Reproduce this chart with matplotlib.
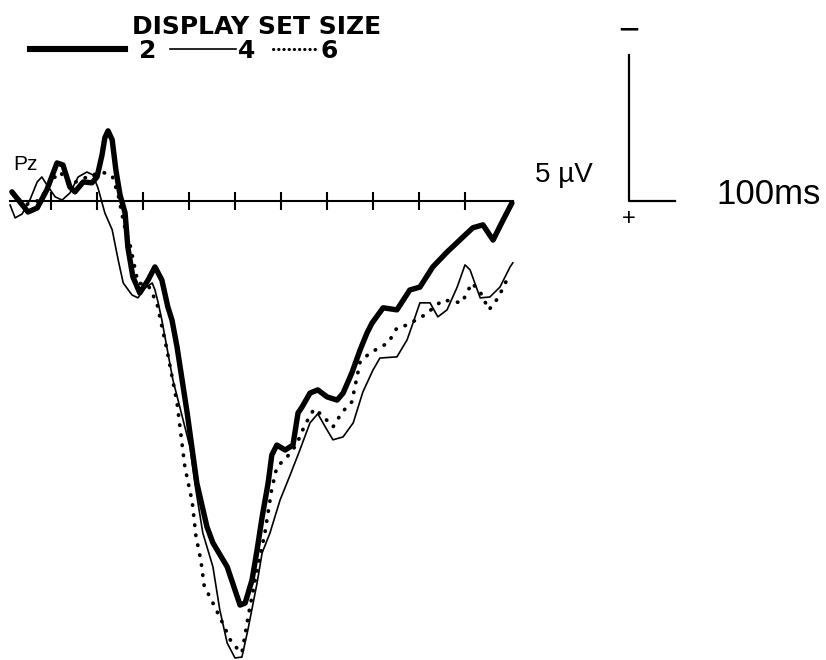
import numpy as np
import matplotlib
matplotlib.use("Agg")
import matplotlib.pyplot as plt
from matplotlib.lines import Line2D

plt.rcParams["font.family"] = ["Liberation Sans", "DejaVu Sans"]

# Pz grand averages, time in ms, amplitude in µV (negative plotted up)
t_set2 = [-185, -150, -130, -109, -87, -74, -59, -48, -30, -11, 0, 11, 17, 24, 33, 41, 50,
          61, 67, 78, 93, 111, 126, 141, 154, 163, 174, 196, 217, 239, 252, 283, 311, 322,
          337, 348, 359, 372, 380, 391, 409, 426, 437, 446, 463, 480, 500, 522, 535, 554,
          572, 587, 598, 622, 652, 680, 702, 730, 761, 796, 817, 839, 861, 883, 902]
v_set2 = [-0.31, 0.38, 0.24, -0.38, -1.30, -1.23, -0.48, -0.31, -0.65, -0.62, -0.82, -1.58,
          -2.16, -2.40, -2.09, -1.06, -0.21, 0.41, 1.58, 2.60, 3.15, 2.71, 2.26, 2.71, 3.63,
          4.08, 5.00, 7.26, 9.66, 11.16, 11.71, 12.53, 13.84, 13.77, 12.98, 11.95, 10.82,
          9.66, 8.70, 8.36, 8.53, 8.36, 7.26, 7.05, 6.58, 6.47, 6.71, 6.82, 6.58, 5.89, 5.10,
          4.52, 4.18, 3.66, 3.73, 3.05, 2.95, 2.26, 1.75, 1.23, 0.92, 0.82, 1.34, 0.65, 0.07]

t_set4 = [-189, -178, -163, -146, -130, -120, -109, -91, -76, -59, -41, -22, -9, 2, 17, 33,
          46, 57, 76, 89, 104, 120, 126, 133, 141, 165, 202, 215, 230, 252, 267, 283, 300,
          315, 328, 348, 359, 376, 398, 420, 441, 463, 480, 500, 513, 535, 557, 578, 600,
          615, 652, 674, 687, 702, 724, 741, 761, 783, 800, 811, 833, 854, 876, 898, 904]
v_set4 = [0.14, 0.58, 0.45, -0.03, -0.65, -0.82, -0.55, -0.14, -0.03, -0.27, -0.82, -0.99,
          -0.89, -0.45, 0.41, 0.99, 2.02, 2.81, 3.22, 3.32, 2.98, 2.81, 3.05, 3.49, 4.08,
          6.13, 8.42, 9.90, 11.37, 12.53, 14.01, 15.14, 15.65, 15.62, 14.69, 13.08, 12.05,
          11.37, 10.24, 9.38, 8.53, 7.60, 7.29, 7.84, 8.18, 8.08, 7.60, 6.54, 5.79, 5.38,
          5.34, 4.76, 4.18, 3.49, 3.49, 3.97, 3.73, 2.95, 2.19, 2.36, 3.32, 3.29, 2.95,
          2.26, 2.12]

t_set6 = [-185, -157, -124, -98, -80, -59, -37, -15, 11, 33, 46, 59, 72, 89, 111, 130, 152,
          174, 191, 207, 215, 226, 233, 252, 272, 293, 315, 330, 348, 365, 380, 391, 413,
          433, 452, 472, 489, 513, 533, 554, 572, 593, 633, 652, 674, 713, 752, 793, 815,
          833, 852, 872, 893]
v_set6 = [-0.27, 0.14, -0.03, -0.72, -0.99, -0.55, -0.72, -0.86, -0.99, -0.86, -0.21, 0.82,
          1.51, 2.81, 2.88, 3.49, 5.10, 6.92, 9.11, 10.31, 11.47, 12.33, 13.18, 13.77,
          14.42, 15.14, 15.48, 14.11, 12.64, 11.37, 9.86, 9.11, 8.77, 8.36, 7.67, 7.12,
          7.33, 7.74, 7.23, 6.88, 5.51, 5.21, 4.86, 4.35, 4.25, 3.90, 3.39, 3.49, 2.81,
          3.12, 3.73, 3.32, 2.64]

tick_times = [-100, 0, 100, 200, 300, 400, 500, 600, 700, 800]
epoch = (-189, 904)

fig = plt.figure(figsize=(8.26, 6.6), dpi=100)
ax = fig.add_axes([0, 0, 1, 1])
ax.set_xlim(-210.9, 1584.8)
ax.set_ylim(15.72, -6.88)   # negative up

# time axis through zero with crossing ticks
for side in ["left", "right", "top"]:
    ax.spines[side].set_visible(False)
ax.spines["bottom"].set_position(("data", 0))
ax.spines["bottom"].set_bounds(*epoch)
ax.spines["bottom"].set_linewidth(1.5)
ax.set_xticks(tick_times)
ax.set_xticklabels([])
ax.set_yticks([])
ax.tick_params(axis="x", direction="inout", length=13, width=1.5)
ax.patch.set_visible(False)

ax.plot(t_set4, v_set4, color="black", lw=1.2)
ax.plot(t_set6, v_set6, color="black", lw=2.7, linestyle=(0, (0.1, 2.6)),
        dash_capstyle="round")
ax.plot(t_set2, v_set2, color="black", lw=3.9, solid_joinstyle="round",
        solid_capstyle="round")

# calibration bar: 5 µV by 100 ms
ax.plot([1156, 1156, 1256], [-5, 0, 0], color="black", lw=1.6)


def fx(px):
    return px / 826


def fy(py):
    return 1 - py / 660


fig.text(fx(13), fy(164), "Pz", fontsize=15, va="center", ha="left")
fig.text(fx(535), fy(175), "5 \u00b5V", fontsize=20, va="center", ha="left")
fig.text(fx(716), fy(194), "100ms", fontsize=25, va="center", ha="left")
fig.text(fx(629), fy(31), "\u2212", fontsize=26, va="center", ha="center")
fig.text(fx(629), fy(219), "+", fontsize=17, va="center", ha="center")

# legend
bold = dict(fontsize=18, fontweight="bold", family="DejaVu Sans")
fig.text(fx(257), fy(27), "DISPLAY SET SIZE", va="center", ha="center", **bold)
fig.add_artist(Line2D([fx(30), fx(125)], [fy(49), fy(49)], color="black", lw=4.4,
                      transform=fig.transFigure))
fig.add_artist(Line2D([fx(170), fx(236)], [fy(49), fy(49)], color="black", lw=1.2,
                      transform=fig.transFigure))
fig.add_artist(Line2D([fx(273), fx(318)], [fy(49), fy(49)], color="black", lw=2.2,
                      linestyle=(0, (0.1, 1.6)), dash_capstyle="round",
                      transform=fig.transFigure))
fig.text(fx(139), fy(51), "2", va="center", ha="left", **bold)
fig.text(fx(238), fy(51), "4", va="center", ha="left", **bold)
fig.text(fx(320), fy(51), "6", va="center", ha="left", **bold)

fig.savefig("out.png", dpi=100, facecolor="white")
